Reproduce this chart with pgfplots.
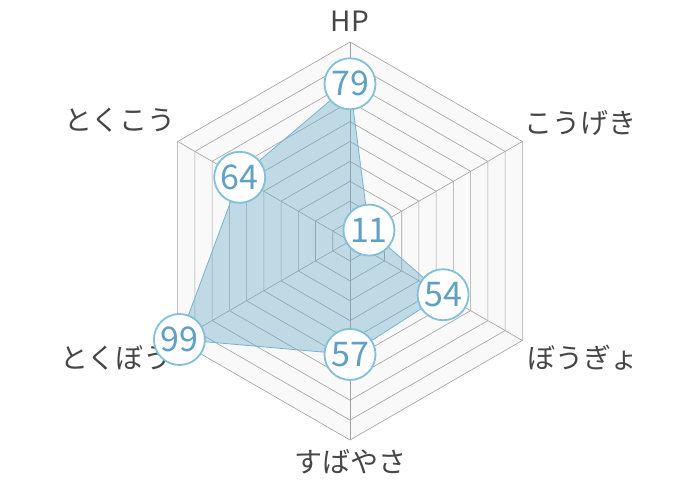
\documentclass[border=0pt]{standalone}
\usepackage{fontspec}
\usepackage{pgfplots}
\pgfplotsset{compat=1.18}
\setmainfont{Noto Sans CJK JP}

\definecolor{gridc}{RGB}{160,160,160}
\definecolor{bgc}{RGB}{249,249,249}
\definecolor{txtc}{RGB}{70,70,70}
\definecolor{areac}{RGB}{105,170,200}
\definecolor{edgec}{RGB}{120,180,208}
\definecolor{ringc}{RGB}{130,192,216}
\definecolor{numc}{RGB}{95,160,195}

\begin{document}
\begin{tikzpicture}
\begin{axis}[
  width=700pt, height=480pt,
  scale only axis,
  hide axis,
  clip=false,
  xmin=-175.9, xmax=175.9,
  ymin=-120.1, ymax=121.1,
  data cs=polar,
]
\path (rel axis cs:0,0) rectangle (rel axis cs:1,1);

% background hexagon
\addplot[draw=none, fill=bgc, forget plot]
  coordinates {(90,100) (30,100) (-30,100) (-90,100) (-150,100) (150,100) (90,100)};

% rings
\pgfplotsinvokeforeach{10,20,...,100}{
  \addplot[gridc, line width=0.6pt, forget plot]
    coordinates {(90,#1) (30,#1) (-30,#1) (-90,#1) (-150,#1) (150,#1) (90,#1)};
}
% spokes
\pgfplotsinvokeforeach{90,30,-30,-90,-150,150}{
  \addplot[gridc, line width=0.6pt, forget plot] coordinates {(#1,0) (#1,100)};
}

% data area
\addplot[draw=edgec, line width=0.8pt, fill=areac, fill opacity=0.4]
  coordinates {(90,79) (30,11) (-30,54) (-90,57) (-150,99) (150,64) (90,79)};

% value circles
\addplot[only marks, mark=*, mark size=25.5pt,
  mark options={fill=white, draw=ringc, line width=1.8pt},
  point meta=explicit symbolic,
  nodes near coords,
  every node near coord/.append style={anchor=center, font=\fontsize{34}{34}\selectfont, text=numc, inner sep=0pt}]
  coordinates {(90,79)[79] (30,11)[11] (-30,54)[54] (-90,57)[57] (-150,99)[99] (150,64)[64]};

% axis labels
\begin{scope}[every node/.style={font=\fontsize{28}{28}\selectfont, text=txtc, inner sep=0pt}]
\node at (axis cs:0,110.5) {HP};
\node at (axis cs:116,59.5) {こうげき};
\node at (axis cs:117,-58.5) {ぼうぎょ};
\node at (axis cs:0,-111) {すばやさ};
\node at (axis cs:-117.5,-58.8) {とくぼう};
\node at (axis cs:-115.6,60.5) {とくこう};
\end{scope}
\end{axis}
\end{tikzpicture}
\end{document}
